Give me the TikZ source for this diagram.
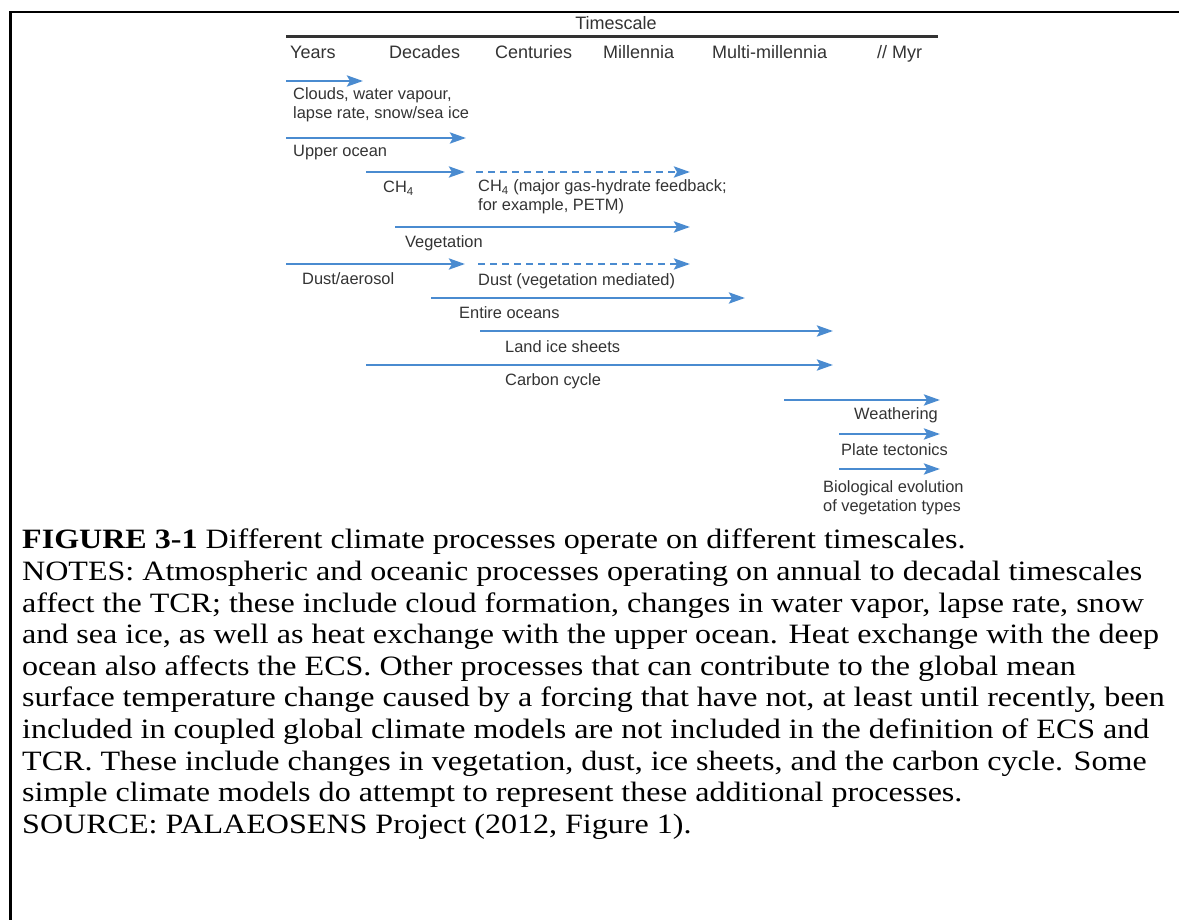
\documentclass[tikz,border=0pt]{standalone}
\usepackage{fontspec}
\setmainfont{Liberation Serif}
\setsansfont{Liberation Sans}
\newfontfamily\capfont[FakeStretch=1.145]{Liberation Serif}
\usetikzlibrary{arrows.meta}
\definecolor{flowblue}{HTML}{4A8BD0}
\definecolor{labgray}{HTML}{333333}

\begin{document}
\begin{tikzpicture}[x=1pt,y=-1pt,
		flow/.style={draw=flowblue,line width=2.8pt,-{Stealth[length=16pt,width=11pt,inset=3pt]}},
		flowdash/.style={flow,dash pattern=on 7pt off 5pt},
		lab/.style={font=\fontsize{16.4}{19.5}\selectfont\sffamily,text=labgray,inner sep=0pt,align=left,anchor=west},
		head/.style={font=\fontsize{18}{21}\selectfont\sffamily,text=labgray,inner sep=0pt,anchor=base west},
		caption/.style={font=\fontsize{28}{31.6}\selectfont\capfont,inner sep=0pt,align=left,anchor=north west}]
		\useasboundingbox (0,0) rectangle (1179,920);

		% Frame
		\draw[line width=2.4pt] (1179,12) -- (10.5,12) -- (10.5,920);

		% Timescale header
		\node[head,anchor=center] (tscale) at (616,23) {Timescale};
		\coordinate (rule-s) at (286,37);
		\coordinate (rule-e) at (938,37);
		\draw[line width=3pt,labgray] (rule-s) -- (rule-e);
		\foreach \n/\t/\x in {years/Years/290,decades/Decades/389,centuries/Centuries/495,
				millennia/Millennia/603,multi/Multi-millennia/712,myr/{// Myr}/877} {
			\node[head] (\n) at (\x,58.5) {\t};
		}

		% Process arrows (solid)
		\foreach \n/\xa/\xb/\y in {clouds/286/363/81,upper/286/466/138,ch/366/465/172,
				veg/395/690/227,dust/286/465/264,oceans/431/745/298,land/480/833/331,
				carbon/366/833/365,weather/784/940/400,plate/839/940/434,bio/839/940/469} {
			\coordinate (\n-s) at (\xa,\y);
			\coordinate (\n-e) at (\xb,\y);
			\draw[flow] (\n-s) -- (\n-e);
		}

		% Process arrows (dashed)
		\foreach \n/\xa/\xb/\y in {chmajor/476/690/172,dustveg/478/690/264} {
			\coordinate (\n-s) at (\xa,\y);
			\coordinate (\n-e) at (\xb,\y);
			\draw[flowdash] (\n-s) -- (\n-e);
		}

		% Labels
		\node[lab] (clouds-lab) at (293,105) {Clouds, water vapour,\\lapse rate, snow/sea ice};
		\node[lab] (upper-lab) at (293,153) {Upper ocean};
		\node[lab] (ch-lab) at (383,188) {CH\textsubscript{4}};
		\node[lab] (chmajor-lab) at (478,197) {CH\textsubscript{4} (major gas-hydrate feedback;\\for example, PETM)};
		\node[lab] (veg-lab) at (405,243) {Vegetation};
		\node[lab] (dust-lab) at (302,279) {Dust/aerosol};
		\node[lab] (dustveg-lab) at (478,281) {Dust (vegetation mediated)};
		\node[lab] (oceans-lab) at (459,313) {Entire oceans};
		\node[lab] (land-lab) at (505,347) {Land ice sheets};
		\node[lab] (carbon-lab) at (505,381) {Carbon cycle};
		\node[lab] (weather-lab) at (854,415) {Weathering};
		\node[lab] (plate-lab) at (841,450) {Plate tectonics};
		\node[lab] (bio-lab) at (823,498) {Biological evolution\\of vegetation types};

		% Caption
		\node[caption] (cap) at (22,529) {\textbf{FIGURE 3-1} Different climate processes operate on different timescales.\\
			NOTES: Atmospheric and oceanic processes operating on annual to decadal timescales\\
			affect the TCR; these include cloud formation, changes in water vapor, lapse rate, snow\\
			and sea ice, as well as heat exchange with the upper ocean. Heat exchange with the deep\\
			ocean also affects the ECS. Other processes that can contribute to the global mean\\
			surface temperature change caused by a forcing that have not, at least until recently, been\\
			included in coupled global climate models are not included in the definition of ECS and\\
			TCR. These include changes in vegetation, dust, ice sheets, and the carbon cycle. Some\\
			simple climate models do attempt to represent these additional processes.\\
			SOURCE: PALAEOSENS Project (2012, Figure 1).};
	\end{tikzpicture}
\end{document}
